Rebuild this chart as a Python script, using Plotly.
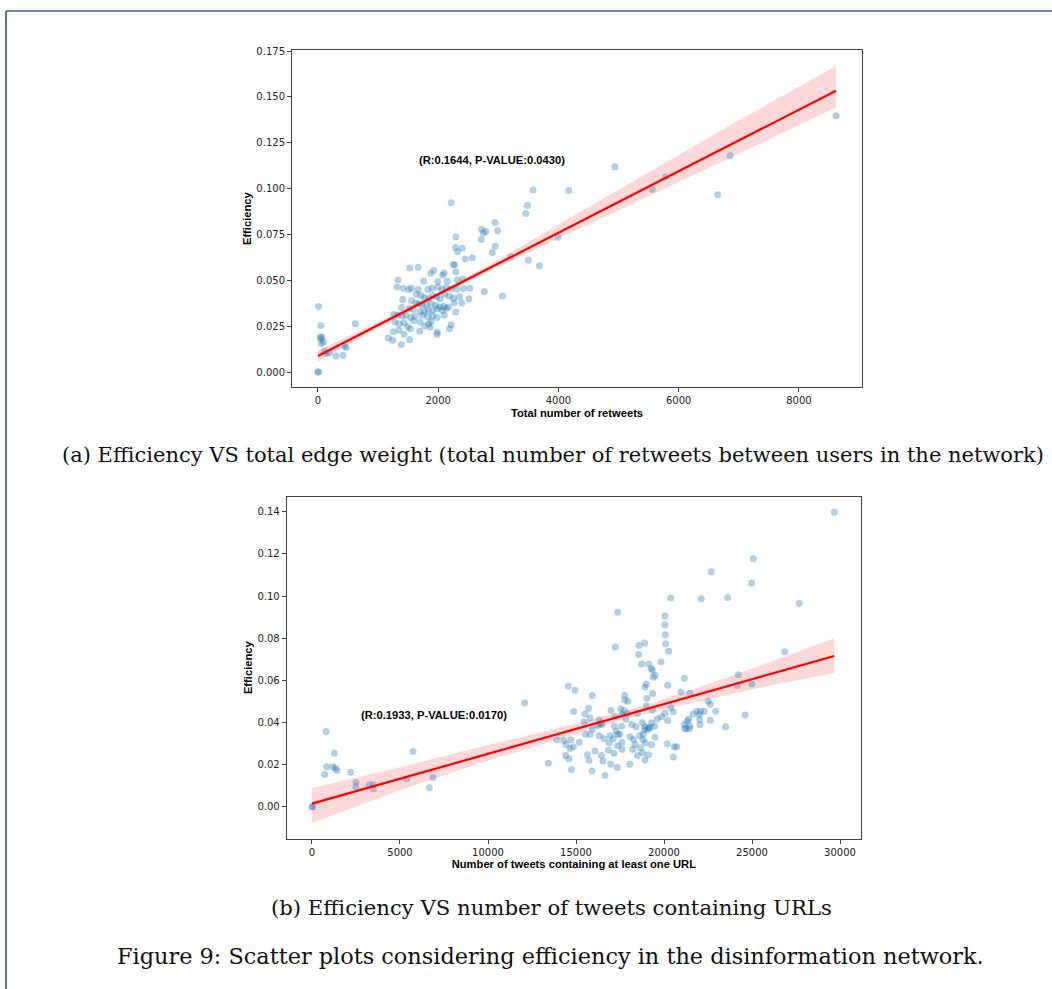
import plotly.graph_objects as go

W, H = 1052, 989

# ---------------- Data: panel (a) ----------------
retweets = [
    0, 8, 10, 50, 38, 67, 50, 93, 55, 110, 130, 190, 300, 417, 443, 470, 622,
    2217, 3577, 3483, 3455, 2943, 2988, 2722, 2793, 2750, 2717, 2293, 3993, 2950, 2288, 2400, 2322,
    2900, 2567, 2450, 3205, 3500, 3683, 2250, 2272, 2293, 1527, 1667, 1927, 1877, 2100, 2072,
    1760, 1993, 2150, 1333, 2317, 2410, 1317,
    1422, 1510, 1555, 1667, 1827, 1900, 1993, 2060, 2133, 2217, 2310, 2422, 2527, 2767, 3067,
    1638, 1717, 1772, 1843, 1910, 1972, 2033, 2105, 2183, 2255, 2355, 2510, 1410, 1555,
    1627, 1683, 1738, 1805, 1883, 1955, 2027, 2093, 2172, 2267, 2393,
    1388, 1522, 1588, 1700, 1772, 1833, 1905, 1983, 2072, 2133, 2293,
    1260, 1327, 1400, 1467, 1543, 1617, 1738, 1827, 1910, 1983, 2100,
    1277, 1350, 1433, 1493, 1593, 1700, 1772, 1843, 1883, 2217,
    1255, 1350, 1433, 1538, 1693, 1867, 1983, 1983, 2188,
    1172, 1243, 1388, 1527,
    4172, 4938, 5560, 5777, 6650, 6855, 8617,
]
efficiency_a = [
    0.0, 0.0, 0.0358, 0.0254, 0.0191, 0.0191, 0.0179, 0.0164, 0.0155, 0.0115, 0.0101, 0.0105, 0.0088, 0.0092, 0.0143, 0.0133, 0.0263,
    0.0923, 0.0992, 0.0908, 0.0865, 0.0815, 0.0771, 0.0778, 0.0766, 0.0760, 0.0722, 0.0737, 0.0735, 0.0686, 0.0679, 0.0675, 0.0656,
    0.0652, 0.0623, 0.0616, 0.0629, 0.0610, 0.0578, 0.0587, 0.0585, 0.0547, 0.0567, 0.0572, 0.0553, 0.0538, 0.0540, 0.0529,
    0.0495, 0.0493, 0.0495, 0.0502, 0.0502, 0.0507, 0.0464,
    0.0457, 0.0450, 0.0457, 0.0450, 0.0450, 0.0457, 0.0464, 0.0450, 0.0461, 0.0453, 0.0453, 0.0455, 0.0457, 0.0439, 0.0414,
    0.0424, 0.0417, 0.0406, 0.0399, 0.0417, 0.0410, 0.0399, 0.0424, 0.0413, 0.0403, 0.0410, 0.0399, 0.0396, 0.0390,
    0.0377, 0.0372, 0.0363, 0.0366, 0.0372, 0.0363, 0.0354, 0.0359, 0.0354, 0.0377, 0.0377,
    0.0352, 0.0348, 0.0341, 0.0330, 0.0327, 0.0338, 0.0334, 0.0345, 0.0336, 0.0348, 0.0327,
    0.0314, 0.0309, 0.0305, 0.0309, 0.0298, 0.0304, 0.0309, 0.0301, 0.0307, 0.0298, 0.0309,
    0.0273, 0.0262, 0.0269, 0.0247, 0.0280, 0.0273, 0.0251, 0.0263, 0.0276, 0.0258,
    0.0220, 0.0228, 0.0206, 0.0236, 0.0222, 0.0244, 0.0218, 0.0204, 0.0236,
    0.0186, 0.0173, 0.0150, 0.0177,
    0.0990, 0.1120, 0.0995, 0.1064, 0.0966, 0.1180, 0.1398,
]
fit_a_x = [0, 8617]
fit_a_y = [0.0088, 0.1534]
band_a_x = [0, 1000, 2000, 3000, 4000, 5000, 6000, 7000, 8617]
band_a_hi = [0.0118, 0.0273, 0.0436, 0.0611, 0.0804, 0.0995, 0.1185, 0.1373, 0.1669]
band_a_lo = [0.0056, 0.0239, 0.0412, 0.0573, 0.0726, 0.0880, 0.1035, 0.1190, 0.1443]
label_a = "(R:0.1644, P-VALUE:0.0430)"

# ---------------- Data: panel (b) ----------------
url_tweets = [
    0, 30, 795, 833, 720, 1269, 1174, 1326, 1420, 2197, 2500, 2500, 3258, 3485, 3485, 5379, 5739, 6667, 6875,
    12083, 13428, 13902,
    22689, 24981, 20379, 22121, 23617, 27689, 17367, 20057, 20057, 20076, 17235, 18580, 18901, 20095, 20265,
    18561, 18731, 19129, 19280, 19337, 19489, 19394, 19830, 21155, 26856, 24223, 24981, 24167, 18996, 18920,
    14564, 14943, 20208, 15928, 17765, 17765, 17955, 19034, 19356, 20966, 21477, 22500, 22630,
    14867, 15511, 15720, 15795, 15454, 16326, 16402, 16989, 17197, 17538, 17727, 17614, 17917, 17841,
    18485, 18996, 19337, 19867, 20057, 20379, 20530,
    18163, 18409, 18769, 18920, 19129, 19299, 19621, 20208,
    15928, 16231, 16477, 17178, 17273, 17367, 17595, 18883, 19072, 19205, 19470, 18826,
    21155, 21326, 21402, 21477, 21250, 21648, 21856, 22008, 22083, 22292, 22027, 22045, 22630, 22936, 23504, 24602,
    14299, 14432, 14697, 14848, 14659, 15189, 15530, 15795, 14413, 14602, 14735, 15644, 15739, 16080, 15909,
    16439, 16534, 16648, 16970, 16326, 16591, 16932, 16875, 17121, 17367, 17500, 17614, 17614, 17159, 16837,
    17348, 18068, 18068, 18258, 18352, 18617, 18807, 18939, 18655, 18220, 18485, 18788, 19129, 18920, 19299,
    19489, 20189, 20587, 20720, 20530, 21193, 21438,
    29676, 25076,
]
efficiency_b = [
    0.0, 0.0, 0.0358, 0.0190, 0.0153, 0.0254, 0.0190, 0.0184, 0.0173, 0.0164, 0.0117, 0.0095, 0.0105, 0.0105, 0.0085, 0.0132, 0.0262, 0.0091, 0.0139,
    0.0493, 0.0207, 0.0318,
    0.1116, 0.1062, 0.0991, 0.0988, 0.0994, 0.0966, 0.0924, 0.0906, 0.0864, 0.0817, 0.0758, 0.0766, 0.0777, 0.0774, 0.0738,
    0.0723, 0.0678, 0.0678, 0.0656, 0.0648, 0.0624, 0.0615, 0.0687, 0.0610, 0.0736, 0.0627, 0.0583, 0.0577, 0.0582, 0.0569,
    0.0572, 0.0553, 0.0577, 0.0528, 0.0530, 0.0507, 0.0501, 0.0515, 0.0538, 0.0545, 0.0539, 0.0501, 0.0486,
    0.0452, 0.0440, 0.0468, 0.0421, 0.0403, 0.0413, 0.0394, 0.0457, 0.0427, 0.0465, 0.0457, 0.0438, 0.0444, 0.0415,
    0.0444, 0.0478, 0.0460, 0.0427, 0.0444, 0.0471, 0.0451,
    0.0391, 0.0380, 0.0399, 0.0380, 0.0375, 0.0399, 0.0417, 0.0410,
    0.0367, 0.0386, 0.0391, 0.0383, 0.0359, 0.0344, 0.0382, 0.0367, 0.0366, 0.0375, 0.0382, 0.0344,
    0.0391, 0.0407, 0.0415, 0.0382, 0.0372, 0.0441, 0.0454, 0.0438, 0.0454, 0.0454, 0.0413, 0.0391, 0.0411, 0.0454, 0.0380, 0.0436,
    0.0315, 0.0296, 0.0318, 0.0285, 0.0277, 0.0307, 0.0344, 0.0344, 0.0244, 0.0228, 0.0177, 0.0247, 0.0221, 0.0265, 0.0170,
    0.0243, 0.0217, 0.0148, 0.0202, 0.0337, 0.0323, 0.0337, 0.0304, 0.0323, 0.0290, 0.0344, 0.0307, 0.0273, 0.0254, 0.0268,
    0.0186, 0.0202, 0.0332, 0.0320, 0.0296, 0.0339, 0.0320, 0.0304, 0.0280, 0.0273, 0.0244, 0.0257, 0.0247, 0.0222, 0.0296,
    0.0330, 0.0299, 0.0285, 0.0285, 0.0236, 0.0370, 0.0370,
    0.1398, 0.1177,
]
fit_b_x = [0, 29676]
fit_b_y = [0.0015, 0.0716]
band_b_x = [0, 5000, 10000, 15000, 17500, 20000, 25000, 29676]
band_b_hi = [0.0088, 0.0188, 0.0293, 0.0394, 0.0448, 0.0512, 0.0655, 0.0800]
band_b_lo = [-0.0077, 0.0078, 0.0220, 0.0344, 0.0408, 0.0462, 0.0558, 0.0635]
label_b = "(R:0.1933, P-VALUE:0.0170)"

# ---------------- Figure ----------------
PT_COLOR = "rgba(31,119,180,0.35)"
BAND_COLOR = "rgba(255,0,0,0.15)"


def px_x(p):
    return p / W


def px_y(p):
    return 1 - p / H


fig = go.Figure()


def add_panel(xs, ys, fx, fy, bx, bhi, blo, xa, ya):
    fig.add_trace(go.Scatter(
        x=list(bx) + list(bx)[::-1], y=list(bhi) + list(blo)[::-1],
        fill="toself", fillcolor=BAND_COLOR, line=dict(width=0),
        mode="lines", hoverinfo="skip", showlegend=False, xaxis=xa, yaxis=ya))
    fig.add_trace(go.Scatter(
        x=xs, y=ys, mode="markers",
        marker=dict(size=7, color=PT_COLOR, line=dict(width=0)),
        showlegend=False, xaxis=xa, yaxis=ya))
    fig.add_trace(go.Scatter(
        x=fx, y=fy, mode="lines", line=dict(color="red", width=2.2),
        showlegend=False, xaxis=xa, yaxis=ya))


add_panel(retweets, efficiency_a, fit_a_x, fit_a_y, band_a_x, band_a_hi, band_a_lo, "x", "y")
add_panel(url_tweets, efficiency_b, fit_b_x, fit_b_y, band_b_x, band_b_hi, band_b_lo, "x2", "y2")

tick_font = dict(family="DejaVu Sans", size=10, color="#222")
title_font = dict(family="Liberation Sans", size=11.2, color="black", weight="bold")
axis_common = dict(showgrid=False, zeroline=False, showline=True, mirror=True,
                   linecolor="#444", linewidth=1, ticks="outside", ticklen=4,
                   tickcolor="#444", tickwidth=1, tickfont=tick_font)

fig.update_layout(
    width=W, height=H,
    margin=dict(l=0, r=0, t=0, b=0),
    paper_bgcolor="white", plot_bgcolor="white",
    showlegend=False,
    xaxis=dict(domain=[px_x(292), px_x(862)], range=[-431, 9048], anchor="y",
               tickvals=[0, 2000, 4000, 6000, 8000], tickformat="d",
               title=dict(text="Total number of retweets", font=title_font, standoff=3),
               **axis_common),
    yaxis=dict(domain=[px_y(385), px_y(46)], range=[-0.0084, 0.1757], anchor="x",
               tickvals=[0, 0.025, 0.05, 0.075, 0.1, 0.125, 0.15, 0.175], tickformat=".3f",
               title=dict(text="Efficiency", font=title_font, standoff=2),
               **axis_common),
    xaxis2=dict(domain=[px_x(286.7), px_x(861)], range=[-1437, 31193], anchor="y2",
                tickvals=[0, 5000, 10000, 15000, 20000, 25000, 30000], tickformat="d",
                title=dict(text="Number of tweets containing at least one URL", font=title_font, standoff=3),
                **axis_common),
    yaxis2=dict(domain=[px_y(838), px_y(494.7)], range=[-0.0151, 0.1472], anchor="x2",
                tickvals=[0, 0.02, 0.04, 0.06, 0.08, 0.10, 0.12, 0.14], tickformat=".2f",
                title=dict(text="Efficiency", font=title_font, standoff=2),
                **axis_common),
)

ann_font = dict(family="Liberation Sans", size=11.2, color="black", weight="bold")
fig.add_annotation(x=2888, y=0.1158, xref="x", yref="y", text=label_a,
                   showarrow=False, font=ann_font)
fig.add_annotation(x=6932, y=0.0438, xref="x2", yref="y2", text=label_b,
                   showarrow=False, font=ann_font)

captions = [
    ("(a) Efficiency VS total edge weight (total number of retweets between users in the network)", 553, 453, 21),
    ("(b) Efficiency VS number of tweets containing URLs", 551, 907, 21.2),
    ("Figure 9: Scatter plots considering efficiency in the disinformation network.", 550, 956, 22.4),
]
for txt, cx, cy, fs in captions:
    fig.add_annotation(x=px_x(cx), y=px_y(cy), xref="paper", yref="paper", text=txt,
                       showarrow=False, font=dict(family="DejaVu Serif", size=fs, color="#111"),
                       xanchor="center", yanchor="middle")

# page frame (left and top rules)
fig.add_shape(type="line", xref="paper", yref="paper", x0=px_x(6), x1=px_x(6), y0=0, y1=px_y(7),
              line=dict(color="#5b7796", width=2))
fig.add_shape(type="line", xref="paper", yref="paper", x0=px_x(6), x1=1, y0=px_y(7), y1=px_y(7),
              line=dict(color="#3f5f80", width=1.5))

fig.write_html("out.html", config={"displayModeBar": False},
               post_script="document.body.style.margin='0';document.body.style.padding='0';document.body.style.overflow='hidden';")
